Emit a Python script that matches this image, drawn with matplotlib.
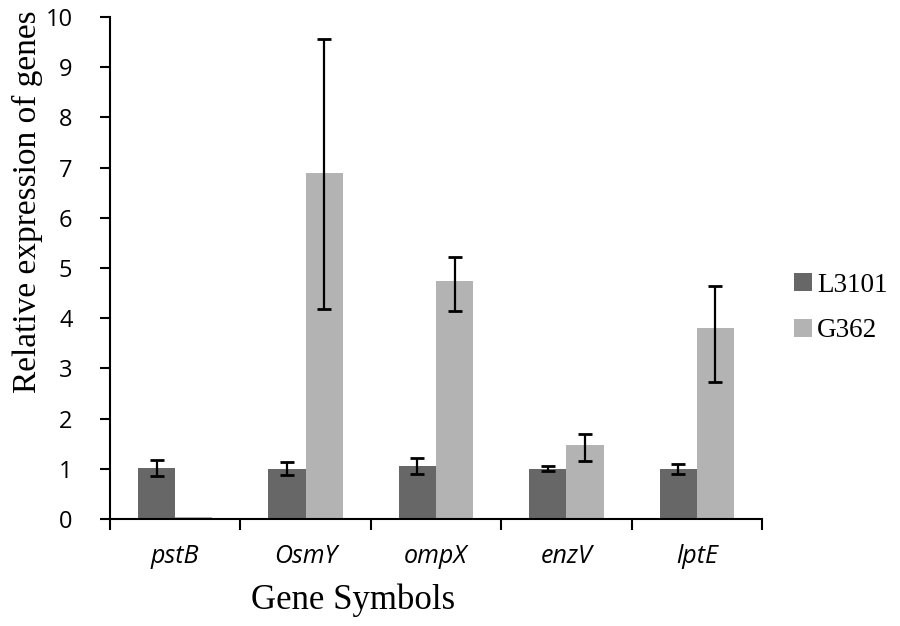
import numpy as np
import matplotlib
matplotlib.use("Agg")
import matplotlib.pyplot as plt

# data
genes = ["pstB", "OsmY", "ompX", "enzV", "lptE"]
l3101 = [1.01, 1.00, 1.06, 1.00, 1.00]
l3101_lo = [0.15, 0.12, 0.16, 0.04, 0.10]
l3101_hi = [0.16, 0.14, 0.16, 0.06, 0.10]
g362 = [0.03, 6.89, 4.74, 1.47, 3.80]
g362_lo = [0.0, 2.71, 0.60, 0.31, 1.07]
g362_hi = [0.0, 2.67, 0.48, 0.22, 0.84]

fig = plt.figure(figsize=(9, 6.26), dpi=100)
ax = fig.add_axes([110 / 900, 107 / 626, 652 / 900, 502 / 626])

x = np.arange(len(genes))
w = 0.285
ax.bar(x - w / 2, l3101, w, color="#676767", label="L3101")
ax.bar(x + w / 2, g362, w, color="#b3b3b3", label="G362")
ax.errorbar(x - w / 2, l3101, yerr=[l3101_lo, l3101_hi], fmt="none",
            ecolor="black", elinewidth=1.6, capsize=5, capthick=2)
err_idx = [i for i in range(len(genes)) if g362_hi[i] > 0]
ax.errorbar(x[err_idx] + w / 2, [g362[i] for i in err_idx],
            yerr=[[g362_lo[i] for i in err_idx], [g362_hi[i] for i in err_idx]],
            fmt="none", ecolor="black", elinewidth=1.6, capsize=5, capthick=2)

ax.set_xlim(-0.5, len(genes) - 0.5)
ax.set_ylim(0, 10)
ax.set_yticks(range(0, 11))
ax.tick_params(axis="y", labelsize=17, length=7, width=1.5, pad=20)
ax.set_yticklabels([str(v) for v in range(11)], family="Open Sans")

ax.set_xticks(x)
ax.set_xticklabels(genes, style="italic", family="Open Sans", fontsize=18)
ax.tick_params(axis="x", which="major", length=0, pad=18)
ax.set_xticks(np.arange(-0.5, len(genes)), minor=True)
ax.tick_params(axis="x", which="minor", length=8, width=1.5)

for s in ["top", "right"]:
    ax.spines[s].set_visible(False)
for s in ["left", "bottom"]:
    ax.spines[s].set_linewidth(1.5)

ax.set_ylabel("Relative expression of genes", family="Liberation Serif",
              fontsize=24)
ax.yaxis.set_label_coords((27 - 110) / 652, (519 - 202) / 502)
ax.yaxis.label.set_va("center")
ax.set_xlabel("Gene Symbols", family="Liberation Serif", fontsize=25)
ax.xaxis.set_label_coords((353 - 110) / 652, (519 - 600) / 502)
ax.xaxis.label.set_va("center")

ax.legend(loc="center left", bbox_to_anchor=(1.012, (519 - 308) / 502),
          frameon=False, prop={"family": "Liberation Serif", "size": 19.5},
          handlelength=0.65, handleheight=0.65, handletextpad=0.2,
          labelspacing=0.75)

fig.savefig("out.png", dpi=100)
